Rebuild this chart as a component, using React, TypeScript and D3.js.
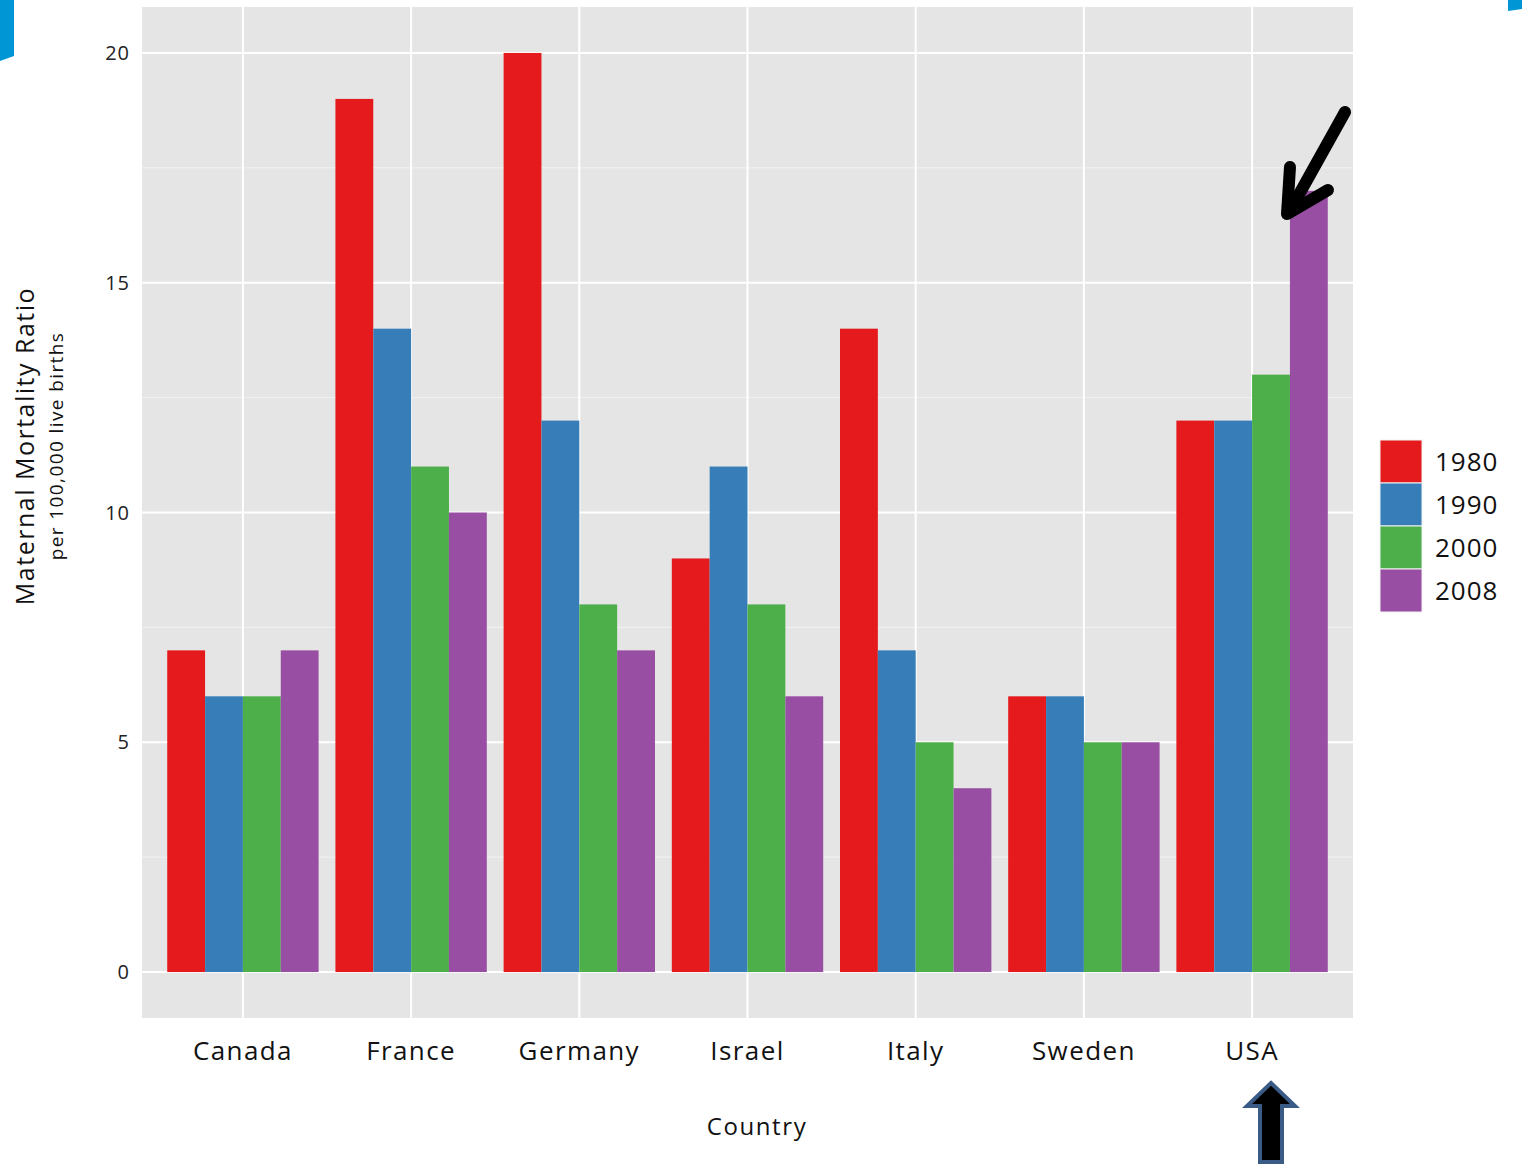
import React, { useEffect, useRef } from 'react';
import * as d3 from 'd3';

const countries = ['Canada', 'France', 'Germany', 'Israel', 'Italy', 'Sweden', 'USA'];
const years = ['1980', '1990', '2000', '2008'];
const ratio1980 = [7, 19, 20, 9, 14, 6, 12];
const ratio1990 = [6, 14, 12, 11, 7, 6, 12];
const ratio2000 = [6, 11, 8, 8, 5, 5, 13];
const ratio2008 = [7, 10, 7, 6, 4, 5, 17];
const yTicks = [0, 5, 10, 15, 20];
const yMinor = [2.5, 7.5, 12.5, 17.5];
const colors = ['#e41a1c', '#377eb8', '#4daf4a', '#984ea3'];

const FONT = "'Open Sans', 'Lato', sans-serif";

const App: React.FC = () => {
  const svgRef = useRef<SVGSVGElement>(null);

  useEffect(() => {
    if (!svgRef.current) return;
    const svg = d3.select(svgRef.current);
    svg.selectAll('*').remove();

    const left = 142, right = 1353, top = 7, bottom = 1018;
    const series = [ratio1980, ratio1990, ratio2000, ratio2008];

    const x = d3.scaleLinear().domain([0.4, 7.6]).range([left, right]);
    const y = d3.scaleLinear().domain([-1, 21]).range([bottom, top]);
    const step = x(2) - x(1);
    const inner = d3.scaleBand<string>().domain(years).range([-0.45 * step, 0.45 * step]);

    // panel
    svg.append('rect')
      .attr('x', left).attr('y', top)
      .attr('width', right - left).attr('height', bottom - top)
      .attr('fill', '#e5e5e5');

    svg.selectAll('.minor').data(yMinor).enter().append('line')
      .attr('x1', left).attr('x2', right)
      .attr('y1', d => y(d)).attr('y2', d => y(d))
      .attr('stroke', '#f2f2f2').attr('stroke-width', 1);

    svg.selectAll('.major').data(yTicks).enter().append('line')
      .attr('x1', left).attr('x2', right)
      .attr('y1', d => y(d)).attr('y2', d => y(d))
      .attr('stroke', '#ffffff').attr('stroke-width', 2);

    svg.selectAll('.vgrid').data(countries).enter().append('line')
      .attr('x1', (_, i) => x(i + 1)).attr('x2', (_, i) => x(i + 1))
      .attr('y1', top).attr('y2', bottom)
      .attr('stroke', '#ffffff').attr('stroke-width', 2);

    // bars
    series.forEach((vals, si) => {
      svg.append('g').selectAll('rect').data(vals).enter().append('rect')
        .attr('x', (_, i) => x(i + 1) + (inner(years[si]) as number))
        .attr('y', d => y(d))
        .attr('width', inner.bandwidth())
        .attr('height', d => y(0) - y(d))
        .attr('fill', colors[si]);
    });

    // y tick labels
    svg.selectAll('.ylab').data(yTicks).enter().append('text')
      .attr('x', 130).attr('y', d => y(d))
      .attr('dy', '0.35em')
      .attr('text-anchor', 'end')
      .attr('font-family', FONT).attr('font-size', 20).attr('letter-spacing', 1)
      .attr('fill', '#222')
      .text(d => d);

    // x tick labels
    svg.selectAll('.xlab').data(countries).enter().append('text')
      .attr('x', (_, i) => x(i + 1)).attr('y', 1060)
      .attr('text-anchor', 'middle')
      .attr('font-family', FONT).attr('font-size', 26).attr('letter-spacing', 1.4)
      .attr('fill', '#111')
      .text(d => d);

    // axis titles
    svg.append('text')
      .attr('x', 757).attr('y', 1135)
      .attr('text-anchor', 'middle')
      .attr('font-family', FONT).attr('font-size', 24).attr('letter-spacing', 1.6)
      .attr('fill', '#111')
      .text('Country');

    svg.append('text')
      .attr('transform', 'translate(34,446) rotate(-90)')
      .attr('text-anchor', 'middle')
      .attr('font-family', FONT).attr('font-size', 25).attr('letter-spacing', 1.5)
      .attr('fill', '#111')
      .text('Maternal Mortality Ratio');

    svg.append('text')
      .attr('transform', 'translate(63,446) rotate(-90)')
      .attr('text-anchor', 'middle')
      .attr('font-family', FONT).attr('font-size', 19).attr('letter-spacing', 1.4)
      .attr('fill', '#111')
      .text('per 100,000 live births');

    // legend
    const lg = svg.append('g').attr('transform', 'translate(1380,440)');
    years.forEach((yr, i) => {
      lg.append('rect')
        .attr('x', 0).attr('y', i * 43)
        .attr('width', 42).attr('height', 43)
        .attr('fill', colors[i])
        .attr('stroke', '#f2f2f2').attr('stroke-width', 1);
      lg.append('text')
        .attr('x', 55).attr('y', i * 43 + 21.5)
        .attr('dy', '0.35em')
        .attr('font-family', FONT).attr('font-size', 26).attr('letter-spacing', 1)
        .attr('fill', '#111')
        .text(yr);
    });

    // decorative corners
    svg.append('path').attr('d', 'M0,0 L14,0 L14,56 L0,61 Z').attr('fill', '#0096d6');
    svg.append('path').attr('d', 'M1508,0 L1522,0 L1522,9 L1508,11 Z').attr('fill', '#0096d6');

    // annotation arrow pointing at USA 2008
    const ann = svg.append('g')
      .attr('stroke', '#000').attr('stroke-width', 12)
      .attr('stroke-linecap', 'round').attr('stroke-linejoin', 'round').attr('fill', 'none');
    ann.append('line').attr('x1', 1345).attr('y1', 112).attr('x2', 1292).attr('y2', 207);
    ann.append('polyline').attr('points', '1290,167 1287,214 1328,190');

    // block arrow below USA
    svg.append('path')
      .attr('d', 'M1271,1083 L1295,1106 L1282,1106 L1282,1162 L1260,1162 L1260,1106 L1247,1106 Z')
      .attr('fill', '#000').attr('stroke', '#3b5b87').attr('stroke-width', 4)
      .attr('stroke-linejoin', 'miter');
  }, []);

  return (
    <svg ref={svgRef} width={1522} height={1165} viewBox="0 0 1522 1165"
      style={{ display: 'block', position: 'absolute', left: 0, top: 0, background: '#fff' }} />
  );
};

export default App;
